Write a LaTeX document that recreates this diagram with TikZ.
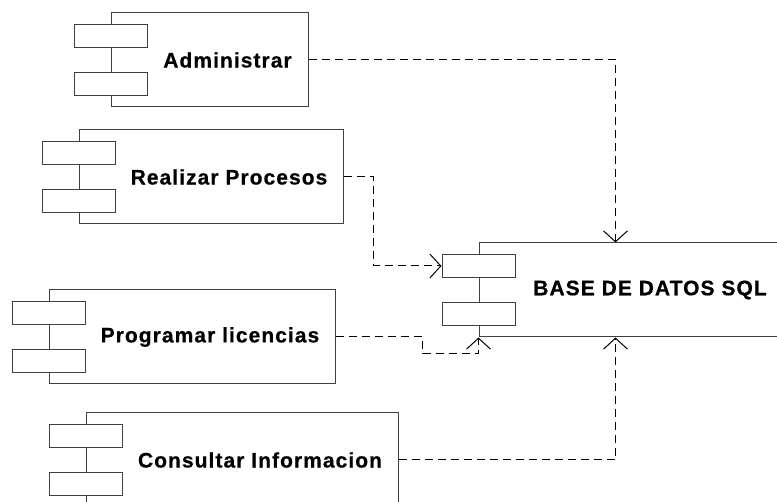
\documentclass[tikz,border=0pt]{standalone}
\usepackage{fontspec}
\newfontfamily\compfont{Liberation Sans}[LetterSpace=5, FakeBold=0.6]
\usepackage{tikz}
\usetikzlibrary{positioning, arrows.meta, calc}

\tikzset{
    comp/.style={rectangle, draw=black!75, line width=1pt, minimum height=94pt, inner sep=0pt},
    tab/.style={rectangle, draw=black!75, line width=1pt, fill=white, minimum width=73pt, minimum height=23pt, inner sep=0pt},
    complabel/.style={font=\compfont\bfseries\fontsize{21pt}{25pt}\selectfont, inner sep=0pt},
    dep/.style={draw=black, line width=1pt, dash pattern=on 8pt off 5pt, -{Straight Barb[length=11pt, width=24pt]}}
}

\begin{document}
\begin{tikzpicture}[x=1pt, y=-1pt]
    \useasboundingbox (0,0) rectangle (777,502);

    % components
    \node (adm) [comp, minimum width=197pt] at (209.5,60) {};
    \node (admtop) [tab] at ([yshift=24pt]adm.west) {};
    \node (admbot) [tab] at ([yshift=-24pt]adm.west) {};
    \node (admtext) [complabel] at ([xshift=18pt]adm.center) {Administrar};

    \node (rp) [comp, minimum width=264pt] at (211,177) {};
    \node (rptop) [tab] at ([yshift=24pt]rp.west) {};
    \node (rpbot) [tab] at ([yshift=-24pt]rp.west) {};
    \node (rptext) [complabel] at ([xshift=18pt]rp.center) {Realizar Procesos};

    \node (pl) [comp, minimum width=286pt] at (192,337) {};
    \node (pltop) [tab] at ([yshift=24pt]pl.west) {};
    \node (plbot) [tab] at ([yshift=-24pt]pl.west) {};
    \node (pltext) [complabel] at ([xshift=18pt]pl.center) {Programar licencias};

    \node (ci) [comp, minimum width=312pt] at (242,460) {};
    \node (citop) [tab] at ([yshift=24pt]ci.west) {};
    \node (cibot) [tab] at ([yshift=-24pt]ci.west) {};
    \node (citext) [complabel] at ([xshift=18pt]ci.center) {Consultar Informacion};

    % database
    \node (db) [comp, minimum width=306pt] at (632,290) {};
    \node (dbtop) [tab] at ([yshift=24pt]db.west) {};
    \node (dbbot) [tab] at ([yshift=-24pt]db.west) {};
    \node (dbtext) [complabel] at ([xshift=18pt]db.center) {BASE DE DATOS SQL};

    % dependencies
    \draw[dep] (adm.east) -| ([xshift=137pt]db.north west);
    \draw[dep] (rp.east) -- ++(30,0) |- (dbtop.west);
    \draw[dep] (pl.east) -- ++(87,0) -- ++(0,17) -| (db.south west);
    \draw[dep] (ci.east) -| ([xshift=137pt]db.south west);
\end{tikzpicture}
\end{document}
